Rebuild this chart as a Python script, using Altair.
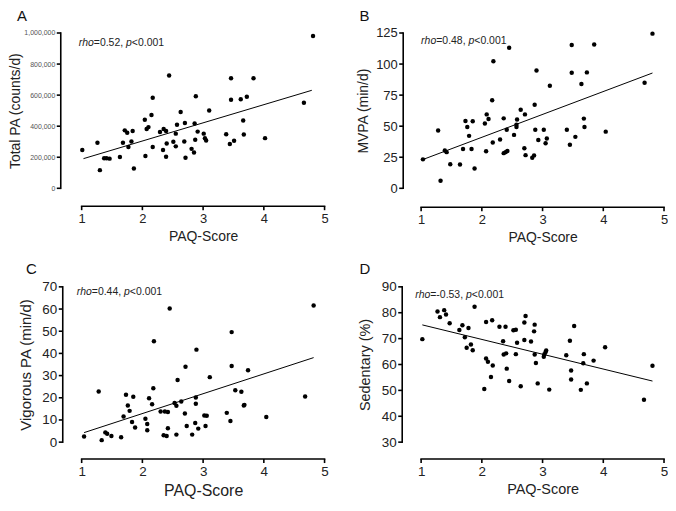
import altair as alt
import pandas as pd

FONT = "Liberation Sans, Arial, Helvetica, sans-serif"

# ---------------- data ----------------
# Panel A: Total PA (counts/d)
a_x = [1.01, 1.26, 1.30, 1.37, 1.41, 1.46, 1.63, 1.68, 1.71, 1.75, 1.77, 1.82, 1.84, 1.86, 2.04,
       2.05, 2.07, 2.10, 2.15, 2.17, 2.17, 2.29, 2.34, 2.35, 2.39, 2.40, 2.39, 2.44, 2.51, 2.55,
       2.55, 2.57, 2.63, 2.69, 2.70, 2.71, 2.81, 2.85, 2.86, 2.87, 2.88, 2.91, 3.01, 3.03, 3.05,
       3.10, 3.38, 3.44, 3.46, 3.46, 3.51, 3.62, 3.66, 3.67, 3.72, 3.83, 4.02, 4.66, 4.81]
a_y = [247000, 293000, 117000, 193000, 193000, 191000, 201000, 293000, 373000, 358000,
       266000, 302000, 369000, 128000, 442000, 208000, 382000, 394000, 472000, 583000,
       266000, 363000, 247000, 382000, 369000, 289000, 203000, 727000, 300000, 352000,
       270000, 409000, 491000, 302000, 421000, 197000, 254000, 231000, 417000, 312000,
       593000, 365000, 352000, 323000, 308000, 501000, 348000, 285000, 570000, 709000,
       306000, 574000, 436000, 346000, 589000, 709000, 323000, 551000, 981000]
a_fit_x = [1.03, 4.79]
a_fit_y = [191000, 631000]

# Panel B: MVPA (min/d)
b_x = [1.03, 1.28, 1.32, 1.39, 1.42, 1.48, 1.64, 1.69, 1.73, 1.76, 1.79, 1.83, 1.85, 1.88, 2.05,
       2.07, 2.08, 2.11, 2.17, 2.19, 2.18, 2.30, 2.36, 2.36, 2.39, 2.41, 2.42, 2.45, 2.53, 2.57,
       2.57, 2.58, 2.64, 2.71, 2.70, 2.72, 2.83, 2.86, 2.87, 2.88, 2.90, 2.93, 3.02, 3.05, 3.07,
       3.12, 3.40, 3.45, 3.48, 3.48, 3.54, 3.64, 3.68, 3.69, 3.73, 3.85, 4.04, 4.68, 4.81]
b_y = [23.3, 46.6, 6.0, 30.4, 29.1, 19.4, 19.1, 31.7, 54.2, 49.3, 42.2, 31.7, 54.0, 16.0, 52.1,
       29.9, 59.5, 55.8, 70.8, 102.2, 36.9, 39.3, 56.3, 28.3, 29.1, 47.2, 30.1, 113.2, 43.0, 51.1,
       49.3, 55.3, 63.2, 59.5, 32.2, 26.7, 24.6, 26.5, 67.3, 47.2, 94.9, 38.8, 47.2, 36.2, 40.1,
       82.5, 47.2, 35.1, 93.0, 115.3, 41.4, 83.9, 56.1, 49.3, 93.3, 115.8, 45.6, 84.9, 124.5]
b_fit_x = [1.02, 4.81]
b_fit_y = [23.0, 92.8]

# Panel C: Vigorous PA (min/d)
c_x = [1.04, 1.28, 1.33, 1.39, 1.42, 1.49, 1.65, 1.69, 1.73, 1.76, 1.79, 1.83, 1.85, 1.88, 2.05,
       2.08, 2.08, 2.11, 2.16, 2.18, 2.19, 2.30, 2.37, 2.35, 2.40, 2.42, 2.42, 2.45, 2.53, 2.56,
       2.58, 2.56, 2.64, 2.71, 2.70, 2.73, 2.82, 2.87, 2.88, 2.88, 2.89, 2.92, 3.02, 3.04, 3.06,
       3.11, 3.39, 3.45, 3.47, 3.47, 3.53, 3.63, 3.67, 3.68, 3.74, 4.04, 4.68, 4.82]
c_y = [2.5, 22.8, 0.9, 4.4, 3.8, 2.8, 2.2, 11.6, 21.4, 16.5, 14.1, 9.1, 20.5, 6.6, 10.5,
       5.4, 8.2, 19.8, 17.1, 24.3, 45.5, 13.8, 13.8, 3.1, 2.8, 13.6, 6.3, 60.2, 17.6, 16.4,
       28.0, 3.4, 18.3, 34.0, 12.9, 7.3, 3.4, 8.6, 17.3, 20.1, 41.7, 6.1, 12.0, 7.3, 11.9,
       29.3, 13.2, 9.5, 49.6, 34.3, 23.4, 22.7, 16.5, 16.8, 32.4, 11.3, 20.6, 61.6]
c_fit_x = [1.04, 4.82]
c_fit_y = [4.3, 38.1]

# Panel D: Sedentary (%)
d_x = [1.02, 1.27, 1.31, 1.38, 1.41, 1.47, 1.63, 1.68, 1.72, 1.75, 1.78, 1.82, 1.85, 1.88, 2.04,
       2.07, 2.07, 2.10, 2.15, 2.17, 2.18, 2.29, 2.35, 2.36, 2.39, 2.40, 2.41, 2.45, 2.52, 2.56,
       2.56, 2.58, 2.64, 2.70, 2.70, 2.72, 2.81, 2.86, 2.87, 2.87, 2.89, 2.92, 3.02, 3.03, 3.05,
       3.06, 3.11, 3.39, 3.45, 3.47, 3.47, 3.52, 3.63, 3.68, 3.67, 3.73, 3.84, 4.03, 4.67, 4.81]
d_y = [69.8, 80.5, 78.3, 81.0, 79.3, 75.9, 73.3, 75.2, 70.5, 66.5, 74.1, 67.7, 65.5, 82.3, 50.5,
       76.4, 62.3, 61.1, 55.2, 77.1, 59.6, 74.6, 69.0, 63.9, 74.6, 64.3, 58.4, 53.6, 73.2, 73.4,
       64.0, 68.4, 51.6, 69.5, 76.2, 78.7, 68.9, 72.8, 75.4, 63.9, 60.6, 52.7, 63.0, 64.0, 64.8,
       65.4, 50.3, 63.6, 69.2, 57.7, 54.2, 74.9, 50.2, 64.0, 60.5, 52.7, 61.5, 66.7, 46.4, 59.5]
d_fit_x = [1.02, 4.81]
d_fit_y = [75.3, 53.6]

x_ticks = [1, 2, 3, 4, 5]
x_title = "PAQ-Score"

# annotation text pieces: italic, normal, italic, normal
a_rho = ["rho", "=0.52,", "p", "<0.001"]
b_rho = ["rho", "=0.48,", "p", "<0.001"]
c_rho = ["rho", "=0.44,", "p", "<0.001"]
d_rho = ["rho", "=-0.53,", "p", "<0.001"]

W = 244
H = 156
ANN = 10.5
LW = 1.6
HALF = LW / 2
TICK = 4


def char_w(s, size):
    widths = {"r": 333, "h": 556, "o": 556, "=": 584, "0": 556, ".": 278, ",": 278,
              "-": 333, "<": 584, "p": 556, " ": 278}
    return sum(widths.get(ch, 556) for ch in s) * size / 1000.0


def panel(xs, ys, fx, fy, ydom, yvals, ytitle, yfmt, letter, rho,
          yoff, xoff, ylab_size, ylab_color, ytitle_size, ytitle_pad,
          xlab_size, xtitle_size, ann_dx, ann_dy, letter_dx, letter_dy):
    pts = pd.DataFrame({"x": xs, "y": ys})
    fit = pd.DataFrame({"x": fx, "y": fy})
    xenc = alt.X("x:Q",
                 scale=alt.Scale(domain=[1, 5], nice=False, zero=False),
                 axis=alt.Axis(values=x_ticks, title=x_title, format="d", offset=xoff,
                               domain=False, tickSize=TICK, tickOpacity=0,
                               labelPadding=2, labelFontSize=xlab_size, labelColor="#222",
                               labelFlush=False, labelFont=FONT,
                               titleFont=FONT, titleFontSize=xtitle_size,
                               titleFontWeight="normal", titleColor="#222",
                               titlePadding=4, grid=False))
    yenc = alt.Y("y:Q",
                 scale=alt.Scale(domain=ydom, nice=False, zero=False),
                 axis=alt.Axis(values=yvals, title=ytitle, format=yfmt, offset=yoff,
                               domain=False, tickSize=TICK, tickOpacity=0,
                               labelPadding=2, labelFontSize=ylab_size, labelColor=ylab_color,
                               labelFont=FONT, titleFont=FONT, titleFontSize=ytitle_size,
                               titleFontWeight="normal", titleColor="#222",
                               titlePadding=ytitle_pad, grid=False))
    ymin, ymax = ydom
    n_x = len(x_ticks)
    n_y = len(yvals)

    # offset axis lines and ticks, drawn as thin filled rects through the same scales
    x_line = alt.Chart(pd.DataFrame({"x": [x_ticks[0]], "x2": [x_ticks[-1]],
                                     "y": [ymin], "y2": [ymin]})).mark_rect(
        color="black", opacity=1, xOffset=-HALF, x2Offset=HALF,
        yOffset=xoff - HALF, y2Offset=xoff + HALF).encode(x=xenc, x2="x2:Q", y=yenc, y2="y2:Q")
    x_tk = alt.Chart(pd.DataFrame({"x": x_ticks, "x2": x_ticks,
                                   "y": [ymin] * n_x, "y2": [ymin] * n_x})).mark_rect(
        color="black", opacity=1, xOffset=-HALF, x2Offset=HALF,
        yOffset=xoff, y2Offset=xoff + TICK).encode(x=xenc, x2="x2:Q", y=yenc, y2="y2:Q")
    y_line = alt.Chart(pd.DataFrame({"x": [x_ticks[0]], "x2": [x_ticks[0]],
                                     "y": [ymin], "y2": [ymax]})).mark_rect(
        color="black", opacity=1, xOffset=-yoff - HALF, x2Offset=-yoff + HALF,
        yOffset=HALF, y2Offset=-HALF).encode(x=xenc, x2="x2:Q", y=yenc, y2="y2:Q")
    y_tk = alt.Chart(pd.DataFrame({"x": [x_ticks[0]] * n_y, "x2": [x_ticks[0]] * n_y,
                                   "y": yvals, "y2": yvals})).mark_rect(
        color="black", opacity=1, xOffset=-yoff - TICK, x2Offset=-yoff,
        yOffset=-HALF, y2Offset=HALF).encode(x=xenc, x2="x2:Q", y=yenc, y2="y2:Q")

    points = alt.Chart(pts).mark_circle(size=20, color="black", opacity=1).encode(x=xenc, y=yenc)
    line = alt.Chart(fit).mark_line(color="black", strokeWidth=1).encode(x=xenc, y=yenc)

    layers = [points, line, x_line, x_tk, y_line, y_tk]
    off = ann_dx
    for i, part in enumerate(rho):
        italic = i % 2 == 0
        layers.append(
            alt.Chart(pd.DataFrame({"t": [part]})).mark_text(
                align="left", baseline="alphabetic", fontSize=ANN, font=FONT,
                fontStyle="italic" if italic else "normal", color="#222"
            ).encode(text="t:N", x=alt.value(off), y=alt.value(ann_dy))
        )
        off += char_w(part, ANN)
        if i == 1:
            off += char_w(" ", ANN)
    layers.append(
        alt.Chart(pd.DataFrame({"t": [letter]})).mark_text(
            align="left", baseline="alphabetic", fontSize=15, font=FONT, color="#111"
        ).encode(text="t:N", x=alt.value(letter_dx), y=alt.value(letter_dy))
    )
    return alt.layer(*layers).properties(width=W, height=H)


A = panel(a_x, a_y, a_fit_x, a_fit_y, [0, 1000000], [0, 200000, 400000, 600000, 800000, 1000000],
          "Total PA (counts/d)", ",d", "A", a_rho,
          yoff=21, xoff=18, ylab_size=7, ylab_color="#555", ytitle_size=14, ytitle_pad=1,
          xlab_size=13, xtitle_size=14, ann_dx=-3, ann_dy=13, letter_dx=-65, letter_dy=-12)
B = panel(b_x, b_y, b_fit_x, b_fit_y, [0, 125], [0, 25, 50, 75, 100, 125],
          "MVPA (min/d)", "d", "B", b_rho,
          yoff=18, xoff=19, ylab_size=13, ylab_color="#222", ytitle_size=14, ytitle_pad=5,
          xlab_size=13, xtitle_size=14, ann_dx=0, ann_dy=11, letter_dx=-62, letter_dy=-12)
C = panel(c_x, c_y, c_fit_x, c_fit_y, [0, 70], [0, 10, 20, 30, 40, 50, 60, 70],
          "Vigorous  PA (min/d)", "d", "C", c_rho,
          yoff=19, xoff=17, ylab_size=13.5, ylab_color="#222", ytitle_size=15, ytitle_pad=8,
          xlab_size=13.5, xtitle_size=16, ann_dx=-5, ann_dy=8, letter_dx=-56, letter_dy=-13)
D = panel(d_x, d_y, d_fit_x, d_fit_y, [30, 90], [30, 40, 50, 60, 70, 80, 90],
          "Sedentary (%)", "d", "D", d_rho,
          yoff=19, xoff=17, ylab_size=13.5, ylab_color="#222", ytitle_size=14.5, ytitle_pad=9,
          xlab_size=13.5, xtitle_size=14.5, ann_dx=-6, ann_dy=11, letter_dx=-62, letter_dy=-13)

top = alt.hconcat(A, B, spacing=28)
bottom = alt.hconcat(C, D, spacing=28)
chart = alt.vconcat(top, bottom, spacing=18).properties(padding=0).configure_view(stroke=None)

chart.save("out.html", embed_options={"renderer": "svg", "actions": False})
